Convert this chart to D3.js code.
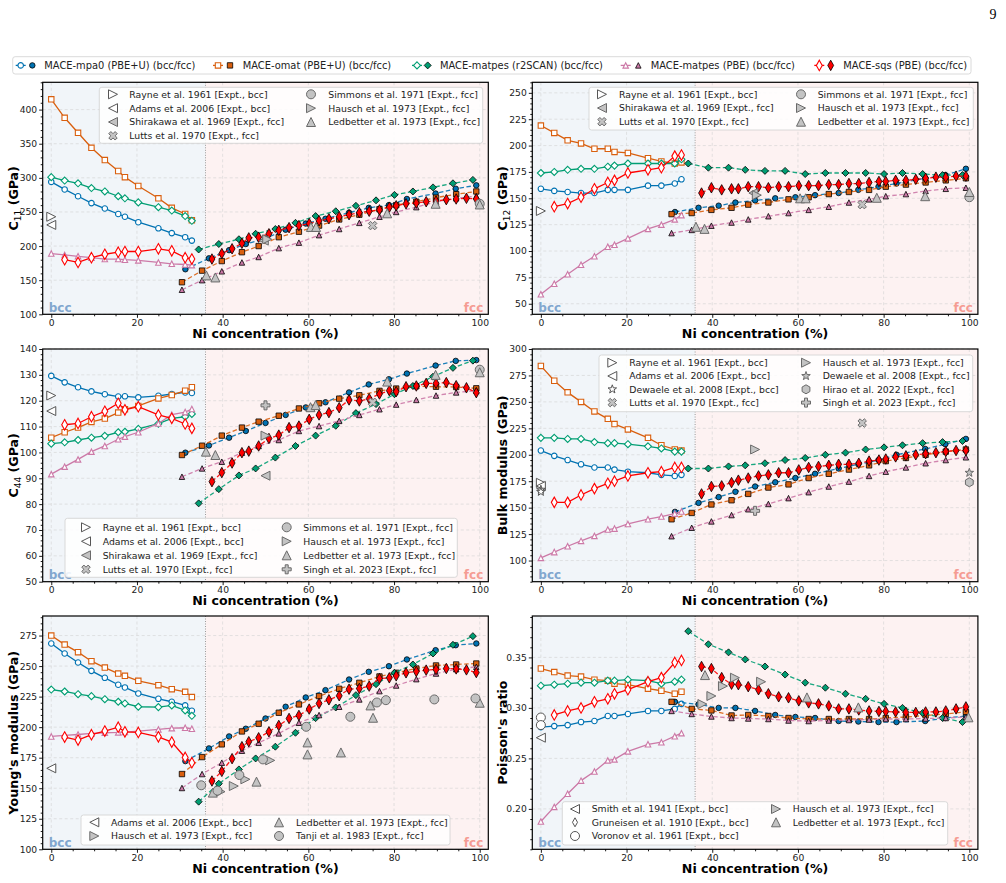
<!DOCTYPE html>
<html>
<head>
<meta charset="utf-8">
<script src="https://cdn.jsdelivr.net/npm/d3@7"></script>
<style>
  body { margin: 0; background: #fff; }
  text { font-family: "DejaVu Sans", sans-serif; }
</style>
</head>
<body>
<svg id="fig" width="1006" height="883"></svg>
<script>
// ---- compositions (Ni %) ----
const X_BCC = [0, 3.125, 6.25, 9.375, 12.5, 15.625, 17.1875, 20.3125, 25, 28.125, 31.25, 32.8125];
const X_BCC_SQS = [3.125, 6.25, 9.375, 12.5, 15.625, 17.1875, 20.3125, 25, 28.125, 31.25, 32.8125];
const X_FCC_MPA0 = [31.3, 36.8, 41.5, 45.4, 50.0, 54.7, 59.4, 64.0, 69.5, 74.1, 78.8, 83.0, 89.7, 94.4, 99.2];
const X_FCC_OMAT = [30.5, 35.2, 39.8, 44.5, 48.4, 53.1, 57.8, 62.5, 67.2, 71.9, 76.6, 80.5, 85.2, 89.8, 94.5, 99.2];
const X_FCC_R2SCAN = [34.4, 39.1, 43.8, 47.7, 52.3, 57.0, 61.7, 66.4, 71.1, 75.8, 80.1, 84.4, 89.1, 93.75, 98.4];
const X_FCC_SQS = [37.5, 39.8, 42.2, 44.5, 46.1, 48.4, 50.8, 53.1, 55.5, 57.8, 60.2, 62.5, 64.8, 67.2, 69.5, 71.9,
  74.2, 76.6, 78.9, 80.5, 82.8, 85.2, 87.5, 89.8, 92.2, 94.5, 96.9, 99.2];

const X_TICKS = [0, 20, 40, 60, 80, 100];
const PHASE_BOUNDARY = 36;

// ---- C11 ----
const c11_mpa0_bcc = [294, 283, 273, 263, 255, 247, 243, 235, 226, 219, 213, 208];
const c11_omat_bcc = [415, 388, 366, 344, 326, 310, 301, 288, 270, 256, 247, 238];
const c11_r2scan_bcc = [301, 296, 292, 285, 280, 273, 270, 264, 257, 252, 244, 237];
const c11_pbe_bcc = [189, 187, 185, 183, 181, 181, 180, 179, 176, 174, 173, 172];
const c11_sqs_bcc = [180, 176, 183, 188, 191, 192, 192, 196, 193, 183, 181];
const c11_mpa0_fcc = [166, 182, 194, 203, 211, 224, 233, 240, 249, 256, 260, 269, 277, 284, 289];
const c11_omat_fcc = [147, 164, 178, 191, 200, 213, 221, 230, 239, 246, 254, 260, 265, 271, 276, 280];
const c11_r2scan_fcc = [195, 203, 210, 218, 225, 234, 244, 251, 259, 267, 275, 280, 286, 292, 297];
const c11_pbe_fcc = [136, 150, 163, 176, 184, 197, 205, 216, 225, 234, 243, 250, 257, 265, 270, 273];
const c11_sqs_fcc = [181, 189, 196, 204, 212, 213, 218, 223, 227, 230, 233, 237, 240, 243, 246, 249, 251, 253,
  257, 259, 262, 263, 265, 266, 268, 269, 270, 269];
const c11_exp = [
  ["rayne", 0, 243], ["adams", 0, 231], ["shirakawa", 49.6, 208], ["hausch", 50.4, 210], ["lutts", 75, 230],
  ["ledbetter", 36.2, 157], ["ledbetter", 38.3, 154], ["ledbetter", 60.6, 228], ["ledbetter", 61.8, 228],
  ["ledbetter", 78.4, 248], ["ledbetter", 89.7, 262], ["simmons", 100, 262], ["ledbetter", 100, 261]
];

// ---- C12 ----
const c12_mpa0_bcc = [159, 157, 156, 155, 155, 158, 158, 158, 162, 162, 164, 168];
const c12_omat_bcc = [219, 212, 205, 202, 197, 197, 194, 193, 188, 185, 183, 184];
const c12_r2scan_bcc = [174, 175, 177, 178, 178, 180, 181, 183, 183, 183, 183, 187];
const c12_pbe_bcc = [59, 69, 78, 87, 95, 104, 106, 112, 121, 125, 130, 134];
const c12_sqs_bcc = [142, 145, 151, 159, 165, 167, 174, 177, 179, 190, 191];
const c12_mpa0_fcc = [137, 141, 143, 146, 148, 150, 151, 153, 155, 158, 161, 164, 169, 172, 178];
const c12_omat_fcc = [135, 136, 139, 141, 144, 146, 149, 151, 154, 156, 158, 161, 163, 165, 167, 169];
const c12_r2scan_fcc = [183, 179, 179, 177, 176, 176, 173, 174, 174, 174, 173, 174, 173, 172, 172];
const c12_pbe_fcc = [117, 120, 124, 127, 130, 133, 136, 139, 142, 146, 149, 152, 154, 157, 159, 160];
const c12_sqs_fcc = [155, 160, 158, 159, 159, 161, 161, 160, 161, 161, 162, 162, 162, 163, 163, 164, 164, 165,
  166, 166, 167, 167, 168, 169, 170, 170, 171, 171];
const c12_exp = [
  ["rayne", 0, 138], ["shirakawa", 49.6, 155], ["hausch", 50.4, 153], ["lutts", 75, 144],
  ["ledbetter", 36.2, 123], ["ledbetter", 38.2, 121], ["ledbetter", 60.5, 150], ["ledbetter", 61.8, 150],
  ["ledbetter", 78.4, 150.5], ["ledbetter", 89.7, 152], ["simmons", 100, 151], ["ledbetter", 100, 156]
];

// ---- C44 ----
const c44_mpa0_bcc = [129.6, 127.1, 125.2, 123.6, 122.5, 121.6, 121.7, 121.3, 121.9, 122.6, 123.2, 123.0];
const c44_omat_bcc = [105.7, 107.8, 109.6, 111.8, 113.1, 115.4, 116.7, 118.0, 120.9, 122.2, 123.9, 125.2];
const c44_r2scan_bcc = [103.4, 103.9, 104.8, 105.7, 106.4, 107.8, 108.0, 109.1, 111.1, 113.2, 113.8, 114.9];
const c44_pbe_bcc = [91.6, 94.5, 97.3, 100.3, 102.5, 105.1, 106.1, 107.8, 111.2, 114.6, 115.6, 116.8];
const c44_sqs_bcc = [110.7, 111.2, 113.8, 115.9, 119.0, 116.5, 117.7, 114.5, 113.2, 111.0, 109.3];
const c44_mpa0_fcc = [99.9, 102.7, 105.7, 108.3, 111.4, 114.5, 117.4, 119.4, 123.2, 126.3, 128.3, 130.5, 133.6, 135.4, 135.7];
const c44_omat_fcc = [99.0, 102.6, 106.5, 109.6, 111.9, 114.2, 117.0, 119.0, 120.8, 122.1, 123.8, 124.7, 125.6, 125.4, 125.3, 124.8];
const c44_r2scan_fcc = [80.3, 85.8, 91.1, 93.8, 98.0, 102.5, 106.5, 110.3, 115.2, 118.7, 122.5, 125.7, 129.3, 132.7, 135.5];
const c44_pbe_fcc = [90.6, 93.8, 96.4, 99.9, 102.5, 104.8, 108.3, 110.2, 112.2, 114.5, 116.7, 118.5, 120.3, 122.0, 123.2, 123.9];
const c44_sqs_fcc = [88.7, 92.2, 95.9, 99.9, 100.5, 102.5, 105.4, 106.7, 109.6, 110.2, 112.8, 114.5, 115.4, 117.3,
  120.3, 119.9, 120.8, 122.6, 123.9, 123.5, 125.4, 125.7, 126.7, 126.7, 127.0, 125.8, 125.0, 123.1];
const c44_exp = [
  ["rayne", 0, 122], ["adams", 0, 116], ["shirakawa", 50, 91], ["hausch", 50, 106.5], ["singh", 50, 118.2],
  ["lutts", 75, 119.4], ["ledbetter", 36.1, 100.3], ["ledbetter", 38.3, 99], ["ledbetter", 60.5, 117.5],
  ["ledbetter", 61.7, 118.3], ["ledbetter", 78.4, 127.4], ["ledbetter", 89.7, 130], ["simmons", 100, 132],
  ["ledbetter", 100, 131]
];

// ---- Bulk modulus ----
const bulk_mpa0_bcc = [204, 199, 195, 191, 188, 188, 186, 184, 183, 181, 180, 181];
const bulk_omat_bcc = [284, 270, 259, 250, 241, 234, 229, 224, 216, 209, 205, 204];
const bulk_r2scan_bcc = [216, 216, 215, 215, 212, 211, 211, 210, 208, 206, 203, 203];
const bulk_pbe_bcc = [102.5, 108, 113.5, 118.6, 123.3, 129.3, 130.2, 134.6, 139.1, 141.6, 144.4, 146.3];
const bulk_sqs_bcc = [155, 155, 162, 168, 173, 175, 180, 183, 184, 188, 188];
const bulk_mpa0_fcc = [146, 154.5, 160, 165, 170, 174, 178, 182, 187, 191, 195, 200, 205.5, 210, 215];
const bulk_omat_fcc = [139, 145, 153, 157, 163, 169, 172, 178, 182, 186, 190, 194, 197, 200, 203, 205];
const bulk_r2scan_fcc = [187, 187, 189, 190, 192, 195, 197, 200, 202, 205, 207, 209, 211, 212, 213];
const bulk_pbe_fcc = [123, 131, 137, 143, 148.5, 153.5, 159, 164.6, 170, 174.6, 180, 184, 188, 192, 195, 197.6];
const bulk_sqs_fcc = [163, 170, 170.6, 173.7, 176, 178, 180, 181, 183, 183, 185.7, 188, 189, 190, 191, 191, 192,
  194, 195, 196, 198, 199, 200, 201, 202, 203, 204, 204];
const bulk_exp = [
  ["rayne", 0, 173.5], ["adams", 0, 170.5], ["dewaeleB", 0, 167], ["dewaeleB", 0, 165], ["hausch", 50, 205],
  ["singh", 50, 147], ["lutts", 75, 230], ["dewaeleF", 100, 183], ["hirao", 100, 174]
];

// ---- Young's modulus ----
const young_mpa0_bcc = [268.5, 260.3, 252.9, 246.1, 240.4, 234.7, 232.5, 227.6, 223.2, 220.8, 217.8, 213.4];
const young_omat_bcc = [275, 267.6, 261.4, 254, 248.8, 243.9, 242, 237.9, 234.4, 231.1, 228.9, 224.6];
const young_r2scan_bcc = [230.8, 229.2, 227, 225.4, 222.9, 220.8, 219.4, 216.7, 216.4, 217.8, 213.7, 209.3];
const young_pbe_bcc = [192.4, 193.2, 194, 194.9, 195.4, 195.7, 196, 196.8, 198.1, 199.2, 199.5, 198.7];
const young_sqs_bcc = [191.9, 189.4, 193.8, 196.8, 200, 196.2, 195.7, 192.1, 187.8, 175.2, 170.9];
const young_mpa0_fcc = [172.2, 182.6, 192.4, 198.7, 207.1, 216.7, 224.3, 230.3, 239, 245.3, 249.9, 255.4, 263, 267.1, 268.5];
const young_omat_fcc = [161.6, 175.5, 185.9, 196.5, 202.8, 211.8, 218.6, 225.4, 231.4, 236.3, 241.5, 244.5, 248, 250.5, 251.3, 252.1];
const young_r2scan_fcc = [139, 153.7, 165.4, 174.4, 184, 195.4, 207.4, 216.1, 226.2, 235.2, 244.5, 251.3, 260.3, 267.4, 274.5];
const young_pbe_fcc = [150.2, 161.6, 170.9, 180.7, 187.2, 194.9, 203.6, 209.9, 216.7, 222.7, 229.5, 234.1, 239.3, 243.9, 247.5, 249.4];
const young_sqs_fcc = [155.9, 163.8, 174.2, 184, 188.1, 191.3, 196.2, 201.4, 207.1, 209.6, 214.8, 219.4, 222.4,
  225.7, 231.1, 231.7, 233.6, 239.8, 240.4, 242, 244.5, 245.6, 246.7, 247.2, 248, 247.7, 246.9, 244.7];
const young_exp = [
  ["adams", 0, 166.3],
  ["hausch", 39.5, 147.2], ["hausch", 42.6, 151.8], ["hausch", 45.3, 157.3], ["hausch", 51.1, 172.8],
  ["ledbetter", 37.7, 146.4], ["ledbetter", 47.9, 155.4], ["ledbetter", 59.8, 187.5], ["ledbetter", 59.8, 177.7],
  ["ledbetter", 67.6, 179.3], ["ledbetter", 74.5, 217.8], ["ledbetter", 75.1, 207.7], ["ledbetter", 100, 220],
  ["tanji", 35, 152.4], ["tanji", 38.8, 148], ["tanji", 43.9, 160.8], ["tanji", 49.4, 173.6], ["tanji", 59.5, 200.3],
  ["tanji", 69.8, 208.5], ["tanji", 76, 220.2], ["tanji", 78.1, 222.1], ["tanji", 89.4, 222.7], ["tanji", 99, 223.5]
];

// ---- Poisson's ratio ----
const pois_mpa0_bcc = [0.281, 0.282, 0.283, 0.286, 0.287, 0.292, 0.292, 0.294, 0.297, 0.297, 0.299, 0.304];
const pois_omat_bcc = [0.339, 0.3355, 0.332, 0.331, 0.328, 0.327, 0.324, 0.323, 0.319, 0.317, 0.314, 0.316];
const pois_r2scan_bcc = [0.322, 0.323, 0.324, 0.325, 0.325, 0.327, 0.327, 0.328, 0.327, 0.324, 0.326, 0.328];
const pois_pbe_bcc = [0.1875, 0.202, 0.215, 0.228, 0.237, 0.248, 0.249, 0.257, 0.264, 0.266, 0.272, 0.275];
const pois_sqs_bcc = [0.293, 0.297, 0.300, 0.306, 0.309, 0.314, 0.318, 0.326, 0.330, 0.345, 0.347];
const pois_mpa0_fcc = [0.306, 0.3035, 0.300, 0.300, 0.297, 0.293, 0.291, 0.290, 0.287, 0.2865, 0.286, 0.286, 0.287, 0.290, 0.292];
const pois_omat_fcc = [0.306, 0.299, 0.2975, 0.2925, 0.293, 0.292, 0.290, 0.289, 0.289, 0.289, 0.289, 0.290, 0.291, 0.2925, 0.294, 0.296];
const pois_r2scan_fcc = [0.376, 0.363, 0.355, 0.348, 0.341, 0.333, 0.325, 0.320, 0.314, 0.309, 0.304, 0.300, 0.295, 0.290, 0.286];
const pois_pbe_fcc = [0.297, 0.294, 0.2915, 0.290, 0.2895, 0.289, 0.2875, 0.287, 0.2875, 0.288, 0.2885, 0.289, 0.289, 0.2895, 0.290, 0.291];
const pois_sqs_fcc = [0.341, 0.339, 0.330, 0.3235, 0.323, 0.321, 0.318, 0.314, 0.311, 0.310, 0.307, 0.305, 0.304,
  0.302, 0.299, 0.299, 0.298, 0.297, 0.2965, 0.2965, 0.296, 0.2955, 0.2955, 0.296, 0.296, 0.297, 0.299, 0.301];
const pois_exp = [
  ["smith", 0, 0.2705], ["gruneisen", 0, 0.284], ["voronov", 0, 0.2905], ["voronov", 0, 0.283],
  ["hausch", 37.7, 0.3038], ["hausch", 39.8, 0.3118], ["hausch", 42.5, 0.3216], ["hausch", 45.3, 0.3299],
  ["hausch", 51.4, 0.3259], ["ledbetter", 38.3, 0.3325], ["ledbetter", 62.1, 0.3104],
  ["ledbetter", 74.1, 0.3005], ["ledbetter", 99.8, 0.2907]
];

// ---- styles ----
const MODELS = [
  { label: "MACE-mpa0 (PBE+U) (bcc/fcc)", color: "#0072B2", shape: "circle", size: 5.5, xb: X_BCC, xf: X_FCC_MPA0 },
  { label: "MACE-omat (PBE+U) (bcc/fcc)", color: "#D95F0E", shape: "square", size: 5.4, xb: X_BCC, xf: X_FCC_OMAT },
  { label: "MACE-matpes (r2SCAN) (bcc/fcc)", color: "#009E73", shape: "diamond", size: 7, xb: X_BCC, xf: X_FCC_R2SCAN },
  { label: "MACE-matpes (PBE) (bcc/fcc)", color: "#CC79A7", shape: "tri-up", size: 5.5, xb: X_BCC, xf: X_FCC_OMAT },
  { label: "MACE-sqs (PBE) (bcc/fcc)", color: "#FF0000", shape: "thin-diamond", size: 10.5, xb: X_BCC_SQS, xf: X_FCC_SQS }
];

const EXP_STYLE = {
  rayne: { label: "Rayne et al. 1961 [Expt., bcc]", shape: "tri-right", open: true },
  adams: { label: "Adams et al. 2006 [Expt., bcc]", shape: "tri-left", open: true },
  shirakawa: { label: "Shirakawa et al. 1969 [Expt., fcc]", shape: "tri-left", open: false },
  lutts: { label: "Lutts et al. 1970 [Expt., fcc]", shape: "x", open: false },
  simmons: { label: "Simmons et al. 1971 [Expt., fcc]", shape: "circle", open: false },
  hausch: { label: "Hausch et al. 1973 [Expt., fcc]", shape: "tri-right", open: false },
  ledbetter: { label: "Ledbetter et al. 1973 [Expt., fcc]", shape: "tri-up", open: false },
  singh: { label: "Singh et al. 2023 [Expt., fcc]", shape: "plus", open: false },
  dewaeleB: { label: "Dewaele et al. 2008 [Expt., bcc]", shape: "star", open: true },
  dewaeleF: { label: "Dewaele et al. 2008 [Expt., fcc]", shape: "star", open: false },
  hirao: { label: "Hirao et al. 2022 [Expt., fcc]", shape: "hexagon", open: false },
  tanji: { label: "Tanji et al. 1983 [Expt., fcc]", shape: "circle", open: false },
  smith: { label: "Smith et al. 1941 [Expt., bcc]", shape: "tri-left", open: true },
  gruneisen: { label: "Gruneisen et al. 1910 [Expt., bcc]", shape: "thin-diamond", open: true },
  voronov: { label: "Voronov et al. 1961 [Expt., bcc]", shape: "circle", open: true }
};
const EXP_SIZE = 9;
const EXP_FILL = "#c3c3c3", EXP_EDGE = "#6a6a6a", EXP_OPEN_EDGE = "#555";

const BCC_BG = "#f1f5f9", FCC_BG = "#fdf2f2";
const X_DOMAIN = [-2, 102];
const PW = 445.6;

function polyPath(pts) {
  return "M" + pts.map(p => p[0].toFixed(2) + "," + p[1].toFixed(2)).join("L") + "Z";
}

function markerPath(shape, s) {
  const h = s / 2;
  switch (shape) {
    case "circle": return d3.symbol(d3.symbolCircle, Math.PI * h * h)();
    case "square": return polyPath([[-h, -h], [h, -h], [h, h], [-h, h]]);
    case "diamond": return polyPath([[0, -h], [h, 0], [0, h], [-h, 0]]);
    case "thin-diamond": { const w = s * 0.28; return polyPath([[0, -h], [w, 0], [0, h], [-w, 0]]); }
    case "tri-up": return polyPath([[0, -h], [h, h], [-h, h]]);
    case "tri-left": return polyPath([[-h, 0], [h, -h], [h, h]]);
    case "tri-right": return polyPath([[h, 0], [-h, -h], [-h, h]]);
    case "plus":
    case "x": {
      const a = s / 6;
      let pts = [[-a, -h], [a, -h], [a, -a], [h, -a], [h, a], [a, a], [a, h], [-a, h], [-a, a], [-h, a], [-h, -a], [-a, -a]];
      if (shape === "x") {
        const c = Math.SQRT1_2;
        pts = pts.map(p => [(p[0] - p[1]) * c, (p[0] + p[1]) * c]);
      }
      return polyPath(pts);
    }
    case "star": {
      const pts = [];
      for (let i = 0; i < 10; i++) {
        const r = i % 2 === 0 ? h : h * 0.4;
        const ang = -Math.PI / 2 + i * Math.PI / 5;
        pts.push([r * Math.cos(ang), r * Math.sin(ang)]);
      }
      return polyPath(pts);
    }
    case "hexagon": {
      const pts = [];
      for (let i = 0; i < 6; i++) {
        const ang = -Math.PI / 2 + i * Math.PI / 3;
        pts.push([h * Math.cos(ang), h * Math.sin(ang)]);
      }
      return polyPath(pts);
    }
  }
}

const svg = d3.select("#fig");
svg.append("rect").attr("width", 1006).attr("height", 883).attr("fill", "#fff");

// page number
svg.append("text").attr("x", 993).attr("y", 19).attr("text-anchor", "middle")
  .style("font-family", "'Liberation Serif', serif").attr("font-size", 14).text("9");

function drawModelMarker(g, m, cx, cy, filled) {
  g.append("path")
    .attr("transform", `translate(${cx},${cy})`)
    .attr("d", markerPath(m.shape, m.size))
    .attr("fill", filled ? m.color : "#fff")
    .attr("stroke", filled ? "#000" : m.color)
    .attr("stroke-width", filled ? 0.8 : 1.1);
}

function drawExpMarker(g, key, cx, cy) {
  const st = EXP_STYLE[key];
  g.append("path")
    .attr("transform", `translate(${cx},${cy})`)
    .attr("d", markerPath(st.shape, EXP_SIZE))
    .attr("fill", st.open ? "#fff" : EXP_FILL)
    .attr("stroke", st.open ? EXP_OPEN_EDGE : EXP_EDGE)
    .attr("stroke-width", 1);
}

function drawPanel(p) {
  const g = svg.append("g");
  const bottom = p.top + p.h, right = p.left + PW;
  const x = d3.scaleLinear().domain(X_DOMAIN).range([p.left, right]);
  const y = d3.scaleLinear().domain(p.yDomain).range([bottom, p.top]);

  // phase backgrounds
  g.append("rect").attr("x", p.left).attr("y", p.top)
    .attr("width", x(PHASE_BOUNDARY) - p.left).attr("height", p.h).attr("fill", BCC_BG);
  g.append("rect").attr("x", x(PHASE_BOUNDARY)).attr("y", p.top)
    .attr("width", right - x(PHASE_BOUNDARY)).attr("height", p.h).attr("fill", FCC_BG);

  // grid
  const grid = g.append("g").attr("stroke", "#d2d2d2").attr("stroke-width", 0.6).attr("stroke-dasharray", "3,2.5");
  X_TICKS.forEach(t => grid.append("line").attr("x1", x(t)).attr("x2", x(t)).attr("y1", p.top).attr("y2", bottom));
  p.yTicks.forEach(t => grid.append("line").attr("x1", p.left).attr("x2", right).attr("y1", y(t)).attr("y2", y(t)));

  // phase boundary
  g.append("line").attr("x1", x(PHASE_BOUNDARY)).attr("x2", x(PHASE_BOUNDARY)).attr("y1", p.top).attr("y2", bottom)
    .attr("stroke", "#9a9a9a").attr("stroke-width", 1).attr("stroke-dasharray", "1,1.5");

  // model series
  const line = d3.line().x(d => x(d[0])).y(d => y(d[1]));
  MODELS.forEach((m, i) => {
    const [bccVals, fccVals] = p.series[i];
    const bccPts = bccVals.map((v, j) => [m.xb[j], v]);
    const fccPts = fccVals.map((v, j) => [m.xf[j], v]);
    g.append("path").attr("d", line(bccPts)).attr("fill", "none")
      .attr("stroke", m.color).attr("stroke-width", 1.3);
    bccPts.forEach(d => drawModelMarker(g, m, x(d[0]), y(d[1]), false));
    g.append("path").attr("d", line(fccPts)).attr("fill", "none")
      .attr("stroke", m.color).attr("stroke-width", 1.3).attr("stroke-dasharray", "4.5,2.5").attr("opacity", 0.9);
    fccPts.forEach(d => drawModelMarker(g, m, x(d[0]), y(d[1]), true));
  });

  // experiments
  p.exp.forEach(([key, xv, yv]) => drawExpMarker(g, key, x(xv), y(yv)));

  // axes
  const fmt = p.fmt || d3.format("d");
  g.append("g").attr("transform", `translate(0,${bottom})`)
    .call(d3.axisBottom(x).tickValues(X_TICKS).tickSize(3.5).tickPadding(1.5).tickFormat(d3.format("d")));
  const xMinor = d3.range(0, 101, 5).filter(v => v % 20 !== 0);
  g.append("g").attr("transform", `translate(0,${bottom})`)
    .call(d3.axisBottom(x).tickValues(xMinor).tickSize(2).tickFormat(""));
  g.append("g").attr("transform", `translate(${p.left},0)`)
    .call(d3.axisLeft(y).tickValues(p.yTicks).tickSize(3.5).tickPadding(2).tickFormat(fmt));
  const lo = p.yDomain[0], hi = p.yDomain[1];
  const yMinor = d3.range(Math.ceil(lo / p.minor - 1e-9), Math.floor(hi / p.minor + 1e-9) + 1)
    .map(k => k * p.minor)
    .filter(v => !p.yTicks.some(t => Math.abs(t - v) < p.minor * 0.01));
  g.append("g").attr("transform", `translate(${p.left},0)`)
    .call(d3.axisLeft(y).tickValues(yMinor).tickSize(2).tickFormat(""));
  g.selectAll(".domain").remove();
  g.selectAll(".tick line").attr("stroke", "#000").attr("stroke-width", 0.9);
  g.selectAll(".tick text").attr("font-size", 9.2).attr("fill", "#222")
    .style("font-family", "'DejaVu Sans', sans-serif");

  // spines
  g.append("rect").attr("x", p.left).attr("y", p.top).attr("width", PW).attr("height", p.h)
    .attr("fill", "none").attr("stroke", "#000").attr("stroke-width", 1.2);

  // phase labels
  g.append("text").attr("x", p.left + 6).attr("y", bottom - 2.5).attr("font-size", 12).attr("font-weight", "bold")
    .attr("fill", "#82a7cf").text("bcc");
  g.append("text").attr("x", right - 5).attr("y", bottom - 2.5).attr("font-size", 12).attr("font-weight", "bold")
    .attr("text-anchor", "end").attr("fill", "#f59c93").text("fcc");

  // axis labels
  g.append("text").attr("x", (p.left + right) / 2).attr("y", bottom + 23.5)
    .attr("text-anchor", "middle").attr("font-size", 12.6).attr("font-weight", "bold")
    .text("Ni concentration (%)");
  const yl = g.append("text")
    .attr("transform", `translate(${p.left - 25},${p.top + p.h / 2}) rotate(-90)`)
    .attr("text-anchor", "middle").attr("font-size", 12.6).attr("font-weight", "bold");
  if (p.sub) {
    yl.append("tspan").text("C");
    yl.append("tspan").attr("dy", 3).attr("font-size", 9).attr("font-weight", "normal").text(p.sub);
    yl.append("tspan").attr("dy", -3).text(" (GPa)");
  } else {
    yl.text(p.ylabel);
  }

  // legend
  const L = p.legend;
  const lg = g.append("g");
  lg.append("rect").attr("x", L.x0).attr("y", L.y0).attr("width", L.x1 - L.x0).attr("height", L.y1 - L.y0)
    .attr("rx", 2.5).attr("fill", "#fff").attr("fill-opacity", 0.85).attr("stroke", "#d0d0d0").attr("stroke-width", 0.8);
  L.cols.forEach((keys, ci) => {
    keys.forEach((key, ri) => {
      const yy = L.rows[ri];
      drawExpMarker(lg, key, L.mx[ci], yy);
      lg.append("text").attr("x", L.tx[ci]).attr("y", yy + 3.3).attr("font-size", 9.3).attr("fill", "#222")
        .text(EXP_STYLE[key].label);
    });
  });
}

const PANELS = [
  {
    left: 42.7, top: 82.3, h: 232, yDomain: [100, 440], yTicks: d3.range(100, 401, 50), minor: 10, sub: "11",
    series: [[c11_mpa0_bcc, c11_mpa0_fcc], [c11_omat_bcc, c11_omat_fcc], [c11_r2scan_bcc, c11_r2scan_fcc],
      [c11_pbe_bcc, c11_pbe_fcc], [c11_sqs_bcc, c11_sqs_fcc]],
    exp: c11_exp,
    legend: { x0: 99.3, x1: 482.7, y0: 87.3, y1: 143.3, rows: [94.3, 108.2, 122, 135.8], mx: [113, 311], tx: [129.3, 328.3],
      cols: [["rayne", "adams", "shirakawa", "lutts"], ["simmons", "hausch", "ledbetter"]] }
  },
  {
    left: 532.3, top: 82.3, h: 232, yDomain: [40, 260], yTicks: d3.range(50, 251, 25), minor: 5, sub: "12",
    series: [[c12_mpa0_bcc, c12_mpa0_fcc], [c12_omat_bcc, c12_omat_fcc], [c12_r2scan_bcc, c12_r2scan_fcc],
      [c12_pbe_bcc, c12_pbe_fcc], [c12_sqs_bcc, c12_sqs_fcc]],
    exp: c12_exp,
    legend: { x0: 589, x1: 973.3, y0: 87.3, y1: 130, rows: [94.3, 108, 121.7], mx: [602, 801], tx: [619, 817.7],
      cols: [["rayne", "shirakawa", "lutts"], ["simmons", "hausch", "ledbetter"]] }
  },
  {
    left: 42.7, top: 349, h: 232.7, yDomain: [50, 140], yTicks: d3.range(50, 141, 10), minor: 2, sub: "44",
    series: [[c44_mpa0_bcc, c44_mpa0_fcc], [c44_omat_bcc, c44_omat_fcc], [c44_r2scan_bcc, c44_r2scan_fcc],
      [c44_pbe_bcc, c44_pbe_fcc], [c44_sqs_bcc, c44_sqs_fcc]],
    exp: c44_exp,
    legend: { x0: 65, x1: 457.3, y0: 518.3, y1: 577.3, rows: [527.3, 541.3, 555.3, 569.3], mx: [86, 286.7], tx: [102.7, 303.3],
      cols: [["rayne", "adams", "shirakawa", "lutts"], ["simmons", "hausch", "ledbetter", "singh"]] }
  },
  {
    left: 532.3, top: 349, h: 232.7, yDomain: [80, 300], yTicks: d3.range(100, 301, 25), minor: 5,
    ylabel: "Bulk modulus (GPa)",
    series: [[bulk_mpa0_bcc, bulk_mpa0_fcc], [bulk_omat_bcc, bulk_omat_fcc], [bulk_r2scan_bcc, bulk_r2scan_fcc],
      [bulk_pbe_bcc, bulk_pbe_fcc], [bulk_sqs_bcc, bulk_sqs_fcc]],
    exp: bulk_exp,
    legend: { x0: 599, x1: 972.7, y0: 355, y1: 411.7, rows: [362.7, 376, 389.3, 402.6], mx: [612.3, 806], tx: [629.3, 822.7],
      cols: [["rayne", "adams", "dewaeleB", "lutts"], ["hausch", "dewaeleF", "hirao", "singh"]] }
  },
  {
    left: 42.7, top: 616, h: 233.3, yDomain: [100, 291], yTicks: d3.range(100, 276, 25), minor: 5,
    ylabel: "Young's modulus (GPa)",
    series: [[young_mpa0_bcc, young_mpa0_fcc], [young_omat_bcc, young_omat_fcc], [young_r2scan_bcc, young_r2scan_fcc],
      [young_pbe_bcc, young_pbe_fcc], [young_sqs_bcc, young_sqs_fcc]],
    exp: young_exp,
    legend: { x0: 81, x1: 450, y0: 815, y1: 845, rows: [822.3, 836], mx: [94.3, 279], tx: [111, 296],
      cols: [["adams", "hausch"], ["ledbetter", "tanji"]] }
  },
  {
    left: 532.3, top: 616, h: 233.3, yDomain: [0.16, 0.391], yTicks: [0.20, 0.25, 0.30, 0.35], minor: 0.01,
    fmt: d3.format(".2f"), ylabel: "Poisson's ratio",
    series: [[pois_mpa0_bcc, pois_mpa0_fcc], [pois_omat_bcc, pois_omat_fcc], [pois_r2scan_bcc, pois_r2scan_fcc],
      [pois_pbe_bcc, pois_pbe_fcc], [pois_sqs_bcc, pois_sqs_fcc]],
    exp: pois_exp,
    legend: { x0: 562.3, x1: 947.7, y0: 801.7, y1: 845, rows: [809, 822.3, 836], mx: [575, 776], tx: [591.7, 792.7],
      cols: [["smith", "gruneisen", "voronov"], ["hausch", "ledbetter"]] }
  }
];

PANELS.forEach(drawPanel);

// top legend
const TOP_LEGEND = { x0: 12.7, x1: 971, y0: 56.7, y1: 74, cy: 65.4,
  m1: [20.7, 218, 417, 625.7, 819.3], m2: [32.3, 230, 427.7, 638.3, 830.7], tx: [44.3, 242.7, 440, 650.7, 843.3] };
const tl = svg.append("g");
tl.append("rect").attr("x", TOP_LEGEND.x0).attr("y", TOP_LEGEND.y0)
  .attr("width", TOP_LEGEND.x1 - TOP_LEGEND.x0).attr("height", TOP_LEGEND.y1 - TOP_LEGEND.y0)
  .attr("rx", 2.5).attr("fill", "#fff").attr("stroke", "#d0d0d0").attr("stroke-width", 0.8);
MODELS.forEach((m, i) => {
  const cy = TOP_LEGEND.cy;
  tl.append("line").attr("x1", TOP_LEGEND.m1[i] - 5).attr("x2", TOP_LEGEND.m1[i] + 5).attr("y1", cy).attr("y2", cy)
    .attr("stroke", m.color).attr("stroke-width", 1.3);
  drawModelMarker(tl, m, TOP_LEGEND.m1[i], cy, false);
  drawModelMarker(tl, m, TOP_LEGEND.m2[i], cy, true);
  tl.append("text").attr("x", TOP_LEGEND.tx[i]).attr("y", cy + 3.6).attr("font-size", 9.9).attr("fill", "#222")
    .text(m.label);
});
</script>
</body>
</html>
